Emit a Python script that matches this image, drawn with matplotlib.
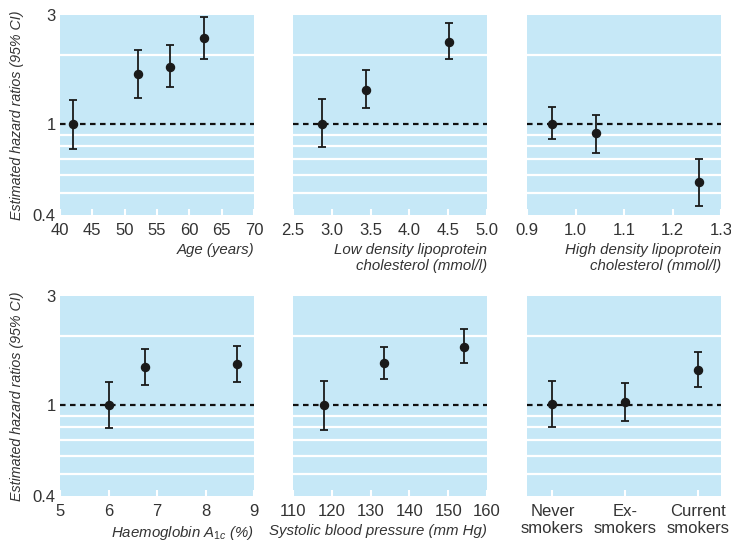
import matplotlib
matplotlib.use("Agg")
import matplotlib.pyplot as plt
import numpy as np

plt.rcParams['font.family'] = ['Liberation Sans', 'DejaVu Sans']
plt.rcParams['mathtext.fontset'] = 'custom'
plt.rcParams['mathtext.it'] = 'Liberation Sans:italic'
plt.rcParams['mathtext.rm'] = 'Liberation Sans'

# data (hazard ratio, lower and upper 95% CI)
age_x = [42.0, 52.1, 57.0, 62.3]
age_hr = [1.00, 1.65, 1.78, 2.38]
age_lo = [0.78, 1.30, 1.45, 1.93]
age_hi = [1.27, 2.11, 2.21, 2.95]

ldl_x = [2.87, 3.44, 4.51]
ldl_hr = [1.00, 1.41, 2.29]
ldl_lo = [0.79, 1.17, 1.93]
ldl_hi = [1.29, 1.72, 2.77]

hdl_x = [0.951, 1.043, 1.254]
hdl_hr = [1.00, 0.91, 0.555]
hdl_lo = [0.86, 0.75, 0.44]
hdl_hi = [1.19, 1.10, 0.70]

hba_x = [6.02, 6.75, 8.64]
hba_hr = [1.00, 1.46, 1.51]
hba_lo = [0.79, 1.22, 1.26]
hba_hi = [1.26, 1.76, 1.81]

sbp_x = [118.1, 133.4, 154.2]
sbp_hr = [1.00, 1.52, 1.80]
sbp_lo = [0.78, 1.30, 1.52]
sbp_hi = [1.27, 1.79, 2.15]

smk_cats = ['Never\nsmokers', 'Ex-\nsmokers', 'Current\nsmokers']
smk_hr = [1.01, 1.03, 1.43]
smk_lo = [0.80, 0.85, 1.20]
smk_hi = [1.27, 1.25, 1.71]

bg = '#c6e8f7'
txt = '#333333'
grid_vals = [0.5, 0.6, 0.7, 0.8, 0.9, 2]

fig = plt.figure(figsize=(7.31, 5.45), dpi=100)
W, H = 731, 545
lefts = [60, 293, 527]
tops = [15, 296]
aw, ah = 194, 200

panels = [
    (age_x, age_hr, age_lo, age_hi, (40, 70), np.arange(40, 71, 5), None, 'Age (years)'),
    (ldl_x, ldl_hr, ldl_lo, ldl_hi, (2.5, 5.0), np.arange(2.5, 5.01, 0.5), '%.1f',
     'Low density lipoprotein\ncholesterol (mmol/l)'),
    (hdl_x, hdl_hr, hdl_lo, hdl_hi, (0.9, 1.3), np.arange(0.9, 1.31, 0.1), '%.1f',
     'High density lipoprotein\ncholesterol (mmol/l)'),
    (hba_x, hba_hr, hba_lo, hba_hi, (5, 9), np.arange(5, 10, 1), None,
     r'Haemoglobin $\mathit{A_{1c}}$ (%)'),
    (sbp_x, sbp_hr, sbp_lo, sbp_hi, (110, 160), np.arange(110, 161, 10), None,
     'Systolic blood pressure (mm Hg)'),
    (list(range(len(smk_cats))), smk_hr, smk_lo, smk_hi, (-0.35, 2.32), None, None, None),
]

for i, (x, hr, lo, hi, xlim, xt, fmt, xlabel) in enumerate(panels):
    r, c = divmod(i, 3)
    ax = fig.add_axes([lefts[c] / W, 1 - (tops[r] + ah) / H, aw / W, ah / H])
    ax.set_facecolor(bg)
    for s in ax.spines.values():
        s.set_visible(False)
    ax.set_yscale('log')
    ax.set_ylim(0.4, 3)
    ax.set_xlim(*xlim)
    for g in grid_vals:
        ax.axhline(g, color='white', lw=1.6, zorder=1)
    ax.axhline(1, color='#111111', lw=1.6, ls=(0, (2.5, 2)), zorder=2)
    hr = np.array(hr)
    yerr = [hr - np.array(lo), np.array(hi) - hr]
    ax.errorbar(x, hr, yerr=yerr, fmt='o', color='#1a1a1a', ms=5.8, elinewidth=1.3,
                capsize=3.2, capthick=1.3, zorder=3)
    ax.yaxis.set_minor_locator(matplotlib.ticker.NullLocator())
    ax.yaxis.set_minor_formatter(matplotlib.ticker.NullFormatter())
    if c == 0:
        ax.set_yticks([0.4, 1, 3])
        ax.set_yticklabels(['0.4', '1', '3'])
        ax.set_ylabel('Estimated hazard ratios (95% CI)', style='italic', fontsize=10.3,
                      color=txt, labelpad=6)
    else:
        ax.set_yticks([])
    ax.tick_params(axis='y', length=0, pad=3, labelsize=12, labelcolor=txt)
    if xt is not None:
        ax.set_xticks(xt)
        if fmt:
            ax.set_xticklabels([fmt % v for v in xt])
    else:
        ax.set_xticks(x)
        ax.set_xticklabels(smk_cats, linespacing=1.15)
    ax.tick_params(axis='x', direction='in', length=4, width=1.5, color='white',
                   pad=6, labelsize=12, labelcolor=txt)
    if xlabel:
        ax.set_xlabel(xlabel, x=1.0, ha='right', style='italic', fontsize=10.8, color=txt,
                      labelpad=3, multialignment='right', linespacing=1.25)

fig.savefig('out.png', dpi=100, facecolor='white')
